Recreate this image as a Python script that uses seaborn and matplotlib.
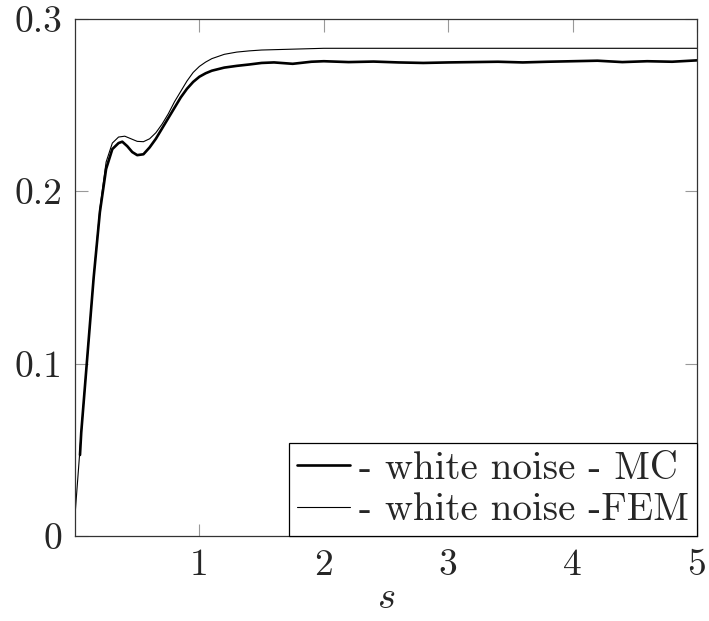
import numpy as np
import pandas as pd
import seaborn as sns
import matplotlib.pyplot as plt

# --- data ---
x_fem = [0.0, 0.05, 0.1, 0.15, 0.2, 0.25, 0.3, 0.35, 0.4, 0.45, 0.5, 0.55, 0.6,
         0.65, 0.7, 0.75, 0.8, 0.85, 0.9, 0.95, 1.0, 1.05, 1.1, 1.2, 1.3, 1.4,
         1.5, 1.75, 2.0, 2.5, 3.0, 4.0, 5.0]
y_fem = [0.012, 0.06, 0.105, 0.15, 0.19, 0.217, 0.228, 0.2315, 0.232, 0.2305,
         0.229, 0.2288, 0.2305, 0.234, 0.239, 0.245, 0.252, 0.258, 0.264, 0.269,
         0.2725, 0.275, 0.277, 0.2795, 0.2808, 0.2815, 0.282, 0.2825, 0.283,
         0.283, 0.283, 0.283, 0.283]

x_mc = [0.04, 0.05, 0.1, 0.15, 0.2, 0.25, 0.3, 0.35, 0.38, 0.42, 0.46, 0.5, 0.55,
        0.6, 0.65, 0.7, 0.75, 0.8, 0.85, 0.9, 0.95, 1.0, 1.05, 1.1, 1.2, 1.3,
        1.4, 1.5, 1.6, 1.75, 1.9, 2.0, 2.2, 2.4, 2.6, 2.8, 3.0, 3.2, 3.4, 3.6,
        3.8, 4.0, 4.2, 4.4, 4.6, 4.8, 5.0]
y_mc = [0.047, 0.06, 0.105, 0.15, 0.188, 0.213, 0.2245, 0.228, 0.2288, 0.2262,
        0.2228, 0.221, 0.2215, 0.2255, 0.2305, 0.2365, 0.2425, 0.2485, 0.2545,
        0.2595, 0.2635, 0.2665, 0.2685, 0.27, 0.2718, 0.2728, 0.2736, 0.2745,
        0.2748, 0.274, 0.2752, 0.2755, 0.275, 0.2753, 0.2748, 0.2745, 0.2748,
        0.275, 0.2752, 0.2748, 0.2752, 0.2755, 0.2758, 0.275, 0.2755, 0.2752,
        0.276]

df_mc = pd.DataFrame({'s': x_mc, 'val': y_mc})
df_fem = pd.DataFrame({'s': x_fem, 'val': y_fem})

sns.set_theme(style='ticks')
plt.rcParams['font.family'] = ['cmr10', 'DejaVu Serif']
plt.rcParams['mathtext.fontset'] = 'cm'
plt.rcParams['axes.unicode_minus'] = False

fig = plt.figure(figsize=(7.09, 6.21), dpi=100)
ax = fig.add_axes([0.1058, 0.1369, 0.983 - 0.1058, 0.9694 - 0.1369])

sns.lineplot(data=df_mc, x='s', y='val', ax=ax, color='black', linewidth=1.9,
             label='- white noise - MC')
sns.lineplot(data=df_fem, x='s', y='val', ax=ax, color='black', linewidth=0.8,
             label='- white noise -FEM')

ax.set_xlim(0, 5)
ax.set_ylim(0, 0.3)
ax.set_xticks([1, 2, 3, 4, 5])
ax.set_xticklabels(['1', '2', '3', '4', '5'])
ax.set_yticks([0, 0.1, 0.2, 0.3])
ax.set_yticklabels(['0', '0.1', '0.2', '0.3'])
ax.tick_params(direction='in', top=True, right=True, length=9, width=0.8,
               color='#999999', labelsize=27, pad=9)
for sp in ax.spines.values():
    sp.set_color('#333333')
    sp.set_linewidth(0.9)

ax.set_xlabel('$s$', fontsize=28, labelpad=-1)
ax.set_ylabel('')

leg = ax.legend(loc='lower right', borderaxespad=0, fancybox=False,
                edgecolor='black', framealpha=1, fontsize=28, handlelength=1.35,
                handletextpad=0.25, borderpad=0.2, labelspacing=0.15)
leg.get_frame().set_linewidth(0.9)

plt.savefig('out.png', dpi=100)
